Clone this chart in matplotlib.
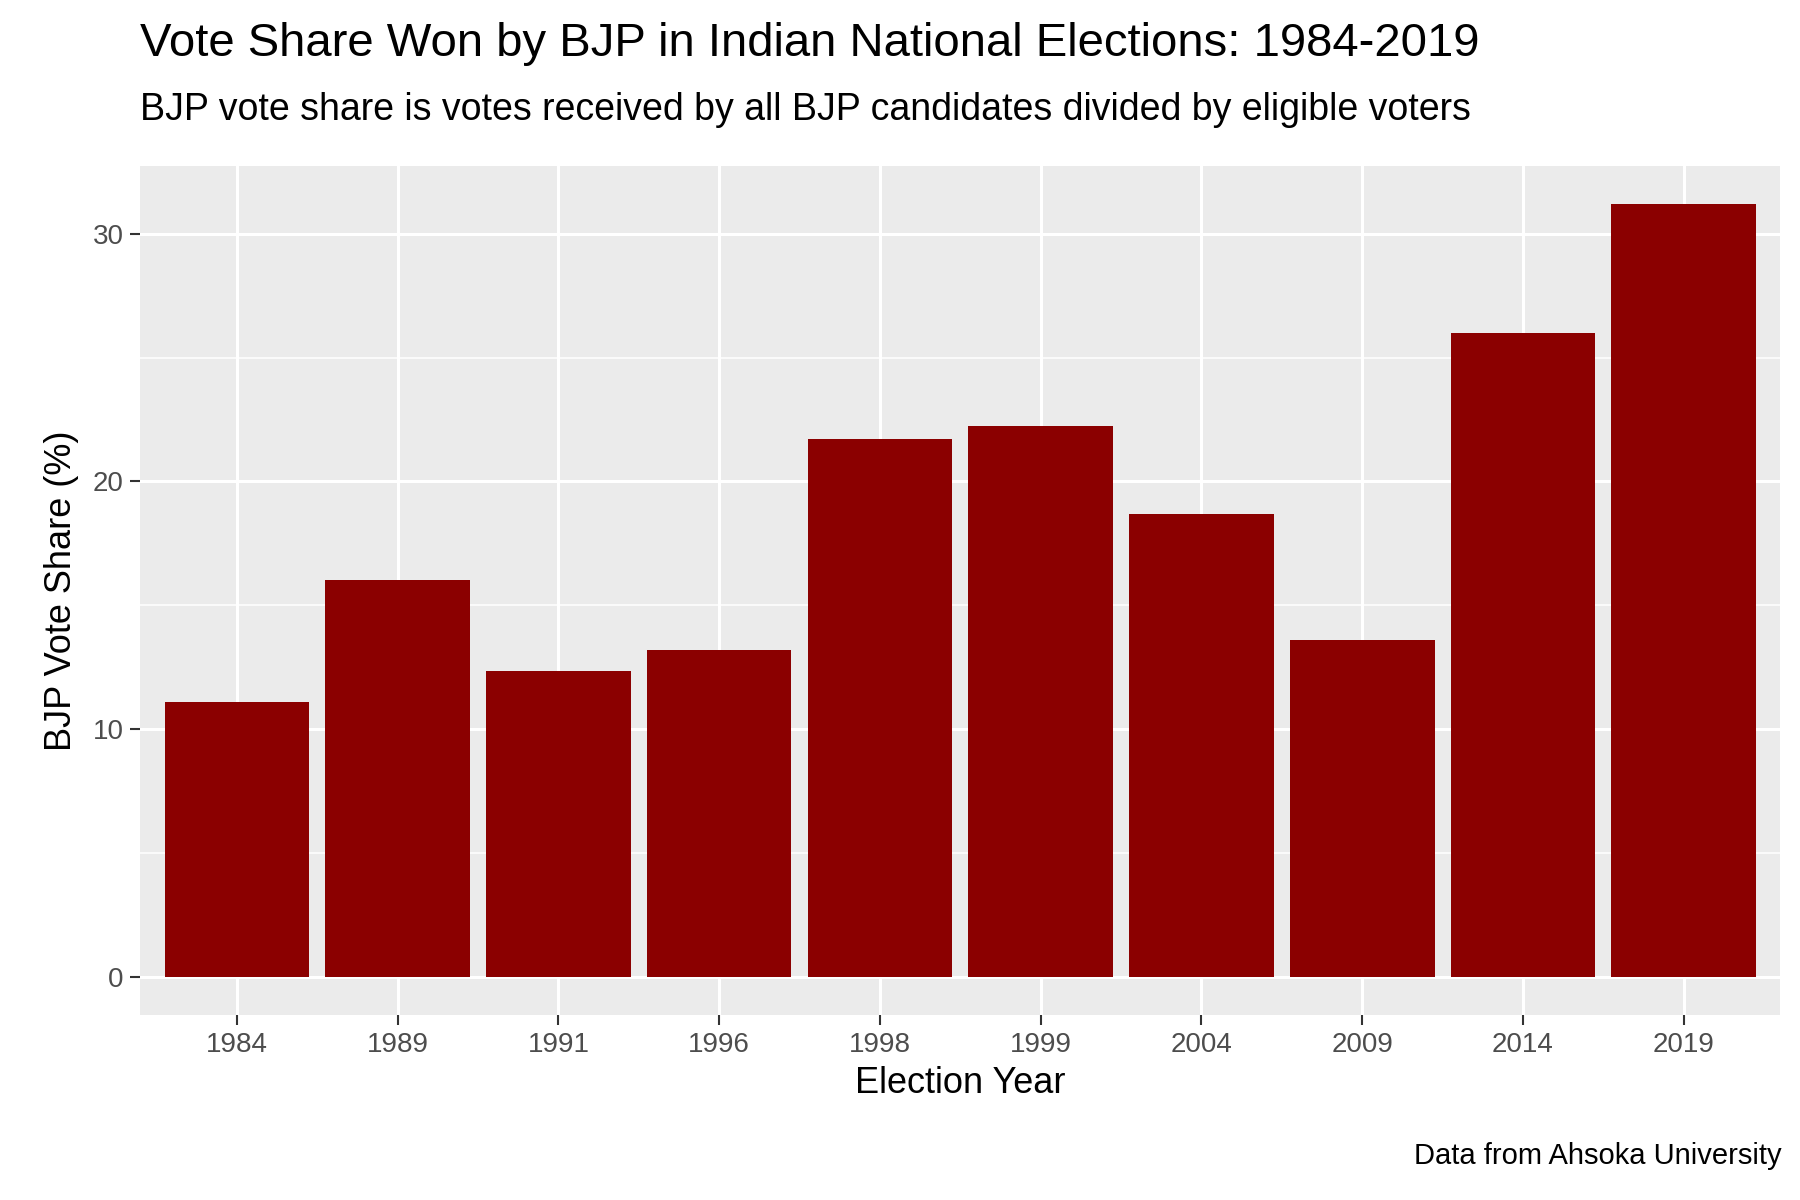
import matplotlib
matplotlib.use("Agg")
import matplotlib.pyplot as plt
import numpy as np

years = ["1984", "1989", "1991", "1996", "1998", "1999", "2004", "2009", "2014", "2019"]
vote_share = [11.1, 16.0, 12.35, 13.2, 21.7, 22.25, 18.7, 13.6, 26.0, 31.2]

plt.rcParams['font.family'] = ['Liberation Sans', 'DejaVu Sans']

fig = plt.figure(figsize=(18, 12), dpi=100)
ax = fig.add_axes([0.078, 0.154, 0.911, 0.708])
ax.set_facecolor("#EBEBEB")

x = np.arange(len(years))
ax.bar(x, vote_share, width=0.9, color="#8B0000", zorder=3)

ax.set_xlim(-0.6, len(years) - 0.4)
ax.set_ylim(-0.05 * max(vote_share), 1.05 * max(vote_share))
ax.set_xticks(x)
ax.set_xticklabels(years)
ax.set_yticks([0, 10, 20, 30])
ax.set_yticks([5, 15, 25], minor=True)
ax.grid(which="major", color="white", linewidth=2.2, zorder=0)
ax.grid(which="minor", axis="y", color="white", linewidth=1.1, zorder=0)
ax.set_axisbelow(True)
for s in ax.spines.values():
    s.set_visible(False)
ax.tick_params(which="major", length=7, width=1.5, color="#333333",
               labelsize=20, labelcolor="#4D4D4D", pad=5)
ax.tick_params(which="minor", length=0)

ax.set_xlabel("Election Year", fontsize=26, labelpad=6)
ax.set_ylabel("BJP Vote Share (%)", fontsize=26, labelpad=10)

fig.text(0.078, 0.945, "Vote Share Won by BJP in Indian National Elections: 1984-2019",
         fontsize=34, va="bottom")
fig.text(0.078, 0.893, "BJP vote share is votes received by all BJP candidates divided by eligible voters",
         fontsize=27, va="bottom")
fig.text(0.99, 0.025, "Data from Ahsoka University", fontsize=21, ha="right", va="bottom")

fig.savefig("out.png", dpi=100)
